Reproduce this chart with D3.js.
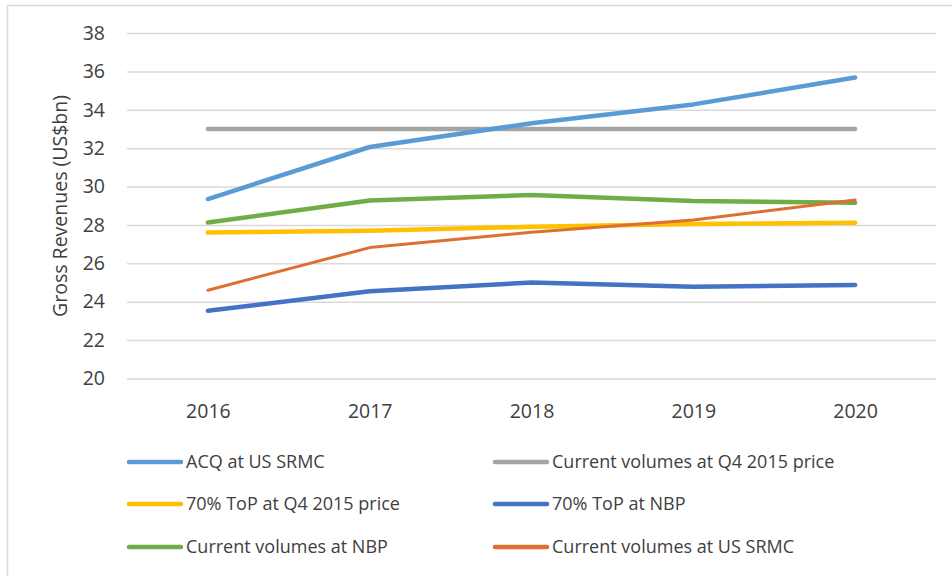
<!DOCTYPE html>
<html>
<head>
<meta charset="utf-8">
<script src="https://cdn.jsdelivr.net/npm/d3@7"></script>
<style>
  body { margin: 0; background: #fff; }
  text { font-family: "Open Sans", "Noto Sans", sans-serif; fill: #404040; }
</style>
</head>
<body>
<svg id="chartId" width="952" height="576"></svg>
<script>
const years = ["2016", "2017", "2018", "2019", "2020"];
const yTicks = [20, 22, 24, 26, 28, 30, 32, 34, 36, 38];

const seriesNames = [
  "ACQ at US SRMC",
  "Current volumes at Q4 2015 price",
  "70% ToP at Q4 2015 price",
  "70% ToP at NBP",
  "Current volumes at NBP",
  "Current volumes at US SRMC"
];
const acqUsSrmc = [29.35, 32.06, 33.3, 34.28, 35.68];
const currentQ4 = [33.0, 33.0, 33.0, 33.0, 33.0];
const topQ4 = [27.6, 27.7, 27.9, 28.05, 28.12];
const topNbp = [23.53, 24.55, 25.0, 24.78, 24.87];
const currentNbp = [28.13, 29.27, 29.56, 29.25, 29.16];
const currentUsSrmc = [24.6, 26.82, 27.62, 28.26, 29.3];

const colors = ["#5B9BD5", "#A5A5A5", "#FFC000", "#4472C4", "#70AD47", "#DD7030"];
const widths = [4.5, 4.5, 4.5, 4.5, 4.5, 3];

const series = [acqUsSrmc, currentQ4, topQ4, topNbp, currentNbp, currentUsSrmc]
  .map((values, i) => ({ name: seriesNames[i], values, color: colors[i], width: widths[i] }));

// later ones on top (orange over green, as in the picture)
const drawOrder = [1, 0, 2, 3, 4, 5];

const svg = d3.select("#chartId");

// chart area border (runs past the right and bottom edges)
svg.append("path")
  .attr("d", "M7.5,576 V5.5 H952")
  .attr("fill", "none")
  .attr("stroke", "#d9d9d9")
  .attr("stroke-width", 1.5);

const margin = { top: 33, left: 127, right: 16 };
const innerWidth = 952 - margin.left - margin.right;
const yBottom = 378.5;

const xScale = d3.scalePoint().domain(years).range([margin.left, margin.left + innerWidth]).padding(0.5);
const yScale = d3.scaleLinear().domain([20, 38]).range([yBottom, margin.top]);

// grid lines + y labels
const yAxis = d3.axisLeft(yScale).tickValues(yTicks).tickSize(-innerWidth).tickPadding(22);
const yAxisG = svg.append("g").attr("transform", `translate(${margin.left},0)`).call(yAxis);
yAxisG.select(".domain").remove();
yAxisG.selectAll(".tick line").attr("stroke", "#d9d9d9").attr("stroke-width", 1.5);
yAxisG.selectAll(".tick text").style("font-size", "19.5px").attr("fill", "#404040");

// x labels
const xAxis = d3.axisBottom(xScale).tickSize(0).tickPadding(26);
const xAxisG = svg.append("g").attr("transform", `translate(0,${yBottom})`).call(xAxis);
xAxisG.select(".domain").remove();
xAxisG.selectAll(".tick text").style("font-size", "19.5px").attr("fill", "#404040");

// y axis title
svg.append("text")
  .attr("transform", "translate(67,206) rotate(-90)")
  .attr("text-anchor", "middle")
  .style("font-size", "19.5px")
  .text("Gross Revenues  (US$bn)");

const line = d3.line()
  .x((d, i) => xScale(years[i]))
  .y(d => yScale(d));

svg.append("g").selectAll("path")
  .data(drawOrder.map(i => series[i]))
  .enter()
  .append("path")
  .attr("d", d => line(d.values))
  .attr("fill", "none")
  .attr("stroke", d => d.color)
  .attr("stroke-width", d => d.width)
  .attr("stroke-linecap", "round")
  .attr("stroke-linejoin", "round");

// legend, two columns
const legendX = [127, 493];
const legendY = [462, 504, 547];
const legend = svg.append("g").selectAll("g")
  .data(series)
  .enter()
  .append("g")
  .attr("transform", (d, i) => `translate(${legendX[i % 2]},${legendY[Math.floor(i / 2)]})`);

legend.append("line")
  .attr("x1", 2).attr("x2", 54)
  .attr("stroke", d => d.color)
  .attr("stroke-width", 4.5)
  .attr("stroke-linecap", "round");

legend.append("text")
  .attr("x", 59)
  .attr("dy", "0.35em")
  .style("font-size", "18px")
  .text(d => d.name);
</script>
</body>
</html>
